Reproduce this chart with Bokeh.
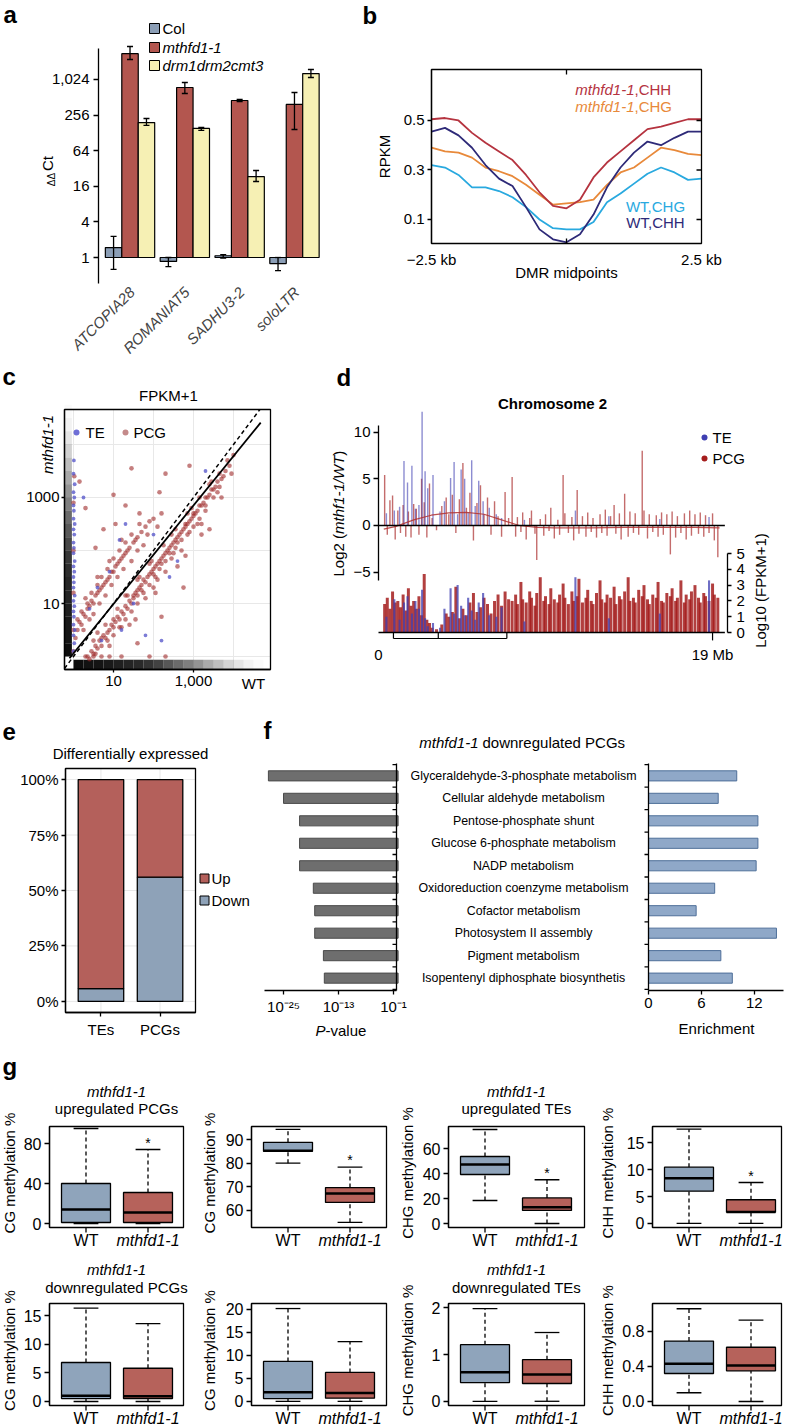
import math
import numpy as np
from bokeh.plotting import figure
from bokeh.layouts import row, column
from bokeh.models import (Range1d, FixedTicker, Label, Whisker, TeeHead,
                          ColumnDataSource, LinearAxis, BoxAnnotation)
from bokeh.embed import file_html
from bokeh.resources import INLINE
from bokeh.core.properties import value

FONT = "Liberation Sans"
HALF_PI = math.pi / 2

# ============================ DATA ============================
# ---- (a) qPCR ----
a_genes = ["ATCOPIA28", "ROMANIAT5", "SADHU3-2", "soloLTR"]
a_lines = ["Col", "mthfd1-1", "drm1drm2cmt3"]
a_col = [1.47, 0.86, 1.07, 0.79]
a_col_lo = [0.63, 0.70, 0.98, 0.60]
a_col_hi = [2.27, 1.00, 1.12, 1.00]
a_mth = [2800, 750, 452, 388]
a_mth_lo = [2230, 593, 434, 146]
a_mth_hi = [3700, 910, 470, 617]
a_drm = [191, 152, 23.4, 1290]
a_drm_lo = [171, 141, 19.3, 1105]
a_drm_hi = [224, 158, 29.6, 1510]
a_yticks = [1, 4, 16, 64, 256, 1024]

# ---- (b) RPKM around DMR midpoints ----
b_kb = [-2.5, -2.25, -2.0, -1.75, -1.5, -1.25, -1.0, -0.75, -0.5, -0.25, 0.0,
        0.25, 0.5, 0.75, 1.0, 1.25, 1.5, 1.75, 2.0, 2.25, 2.5]
b_mth_chh = [0.505, 0.51, 0.50, 0.45, 0.41, 0.375, 0.34, 0.28, 0.21, 0.155, 0.145,
             0.18, 0.27, 0.33, 0.375, 0.42, 0.465, 0.475, 0.49, 0.505, 0.505]
b_mth_chg = [0.39, 0.375, 0.37, 0.35, 0.31, 0.295, 0.275, 0.24, 0.20, 0.16, 0.165,
             0.17, 0.18, 0.24, 0.29, 0.31, 0.35, 0.39, 0.38, 0.365, 0.36]
b_wt_chg = [0.32, 0.31, 0.28, 0.23, 0.23, 0.215, 0.19, 0.15, 0.10, 0.065, 0.06,
            0.06, 0.09, 0.17, 0.205, 0.245, 0.285, 0.31, 0.29, 0.26, 0.265]
b_wt_chh = [0.455, 0.47, 0.44, 0.39, 0.32, 0.265, 0.235, 0.15, 0.06, 0.02, 0.008,
            0.04, 0.12, 0.23, 0.31, 0.37, 0.415, 0.40, 0.43, 0.455, 0.455]
b_yticks = [0.1, 0.3, 0.5]

# ---- (c) FPKM+1 scatter, log10 units (x = WT, y = mthfd1-1) ----
pcg_x = [0.35, 0.45, 0.5, 0.55, 0.6, 0.65, 0.7, 0.75, 0.8, 0.85,
         0.9, 0.95, 1.0, 1.0, 1.05, 1.1, 1.15, 1.2, 1.25, 1.3,
         1.35, 1.4, 1.45, 1.5, 1.5, 1.55, 1.6, 1.65, 1.7, 1.7,
         1.75, 1.8, 1.85, 1.9, 1.95, 2.0, 2.0, 2.05, 2.1, 2.15,
         2.2, 2.2, 2.25, 2.3, 2.35, 2.4, 2.4, 2.45, 2.5, 2.55,
         2.6, 2.6, 2.65, 2.7, 2.75, 2.8, 2.8, 2.85, 2.9, 2.95,
         3.0, 3.0, 3.05, 3.1, 3.15, 3.2, 3.25, 3.3, 3.35, 3.4,
         3.45, 3.5, 3.55, 3.6, 3.7, 3.8, 3.9, 1.2, 1.6, 2.1,
         2.5, 2.9, 3.3, 0.9, 1.8, 2.3, 1.4, 3.6, 2.0, 2.7,
         3.1, 1.3, 1.9, 2.45, 2.95, 3.45, 3.85, 0.6, 1.6,
         0.05, 0.1, 0.15, 0.2, 0.25, 0.3, 0.35, 0.4, 0.45, 0.5,
         0.55, 0.6, 0.65, 0.7, 0.75, 0.8, 0.85, 0.9, 0.95, 1.0,
         1.05, 1.1, 1.15, 1.2, 1.25, 1.3, 1.35, 1.4, 1.5, 1.55,
         1.6, 1.7, 1.8, 1.9, 2.0, 0.3, 0.6, 0.9, 1.2, 0.5,
         0.8, 1.1, 1.45, 1.75, 2.1,
         0.55, 0.75, 1.05, 1.3, 1.0, 1.65, 2.3, 2.15, 1.45, 2.9,
         2.75, 3.2, 0.3, 0.15, 0.9, 1.2, 0.3, 0.5, 0.7, 1.9,
         2.3, 1.6, 2.2, 2.8, 3.4, 3.7, 4.0, 3.95, 0.0, 0.0,
         0.0, 0.0, 0.0, 0.02,
         0.4, 0.55, 0.7, 0.85, 1.0, 1.15, 1.3, 1.45, 1.6, 1.75,
         1.9, 2.05, 2.15, 2.3, 2.45, 2.55, 2.7, 2.85, 3.0, 3.15,
         3.3, 3.5, 3.65, 3.75, 1.1, 1.35, 1.65, 1.95, 2.25, 2.55,
         2.85, 3.15, 3.4, 3.65, 0.8, 0.5, 2.05, 2.6, 3.2, 1.55,
         0.1, 0.2, 0.35, 0.45, 0.6, 0.7, 0.85, 1.0, 1.15, 1.3,
         1.45, 1.65, 0.25, 0.4, 0.65, 0.95, 1.25, 1.6, 1.85, 2.2]
pcg_y = [0.0, 0.1, 0.05, 0.2, 0.15, 0.3, 0.2, 0.4, 0.35, 0.45,
         0.5, 0.6, 0.55, 0.7, 0.65, 0.75, 0.7, 0.85, 0.8, 0.95,
         0.9, 1.05, 1.0, 1.15, 1.1, 1.2, 1.25, 1.3, 1.35, 1.25,
         1.45, 1.4, 1.5, 1.55, 1.6, 1.65, 1.55, 1.7, 1.75, 1.8,
         1.85, 1.75, 1.9, 1.95, 2.0, 2.05, 1.95, 2.1, 2.15, 2.2,
         2.25, 2.15, 2.3, 2.35, 2.4, 2.45, 2.5, 2.5, 2.55, 2.6,
         2.65, 2.7, 2.7, 2.75, 2.85, 2.85, 2.9, 3.0, 3.0, 3.05,
         3.15, 3.15, 3.2, 3.3, 3.35, 3.5, 3.6, 0.55, 1.0, 1.45,
         1.95, 2.35, 2.75, 0.2, 1.1, 1.6, 0.6, 3.1, 1.3, 2.0,
         2.5, 1.15, 1.75, 2.3, 2.8, 3.3, 3.7, 0.45, 1.45,
         0.35, 0.5, 0.65, 0.6, 0.8, 0.75, 0.9, 0.95, 1.05, 1.0,
         1.15, 1.2, 1.25, 1.3, 1.35, 1.4, 1.45, 1.5, 1.6, 1.6,
         1.7, 1.75, 1.8, 1.85, 1.9, 1.95, 2.0, 2.05, 2.15, 2.2,
         2.25, 2.35, 2.45, 2.55, 2.6, 1.1, 1.5, 1.8, 2.2, 0.8,
         1.15, 1.5, 1.8, 2.1, 2.45,
         2.05, 2.4, 2.5, 2.85, 3.05, 2.7, 3.45, 3.1, 3.55, 3.6,
         1.3, 2.3, 2.8, 3.3, 0.0, 0.0, 0.0, 0.0, 0.0, 0.0,
         0.0, 0.25, 0.75, 1.9, 2.4, 3.0, 3.8, 3.45, 0.5, 1.2,
         2.0, 2.9, 0.1, 3.4,
         -0.05, 0.05, 0.35, 0.3, 0.4, 0.55, 0.7, 0.85, 1.15, 1.2,
         1.35, 1.5, 1.65, 1.8, 1.85, 2.05, 2.2, 2.3, 2.45, 2.6,
         2.85, 3.0, 3.2, 3.4, 0.9, 1.15, 1.5, 1.8, 2.1, 2.4,
         2.7, 3.0, 3.25, 3.45, 0.6, 0.3, 1.2, 1.7, 2.5, 0.7,
         0.7, 0.85, 1.0, 1.2, 1.35, 1.5, 1.65, 1.85, 2.0, 2.15,
         2.3, 2.5, 0.5, 0.7, 1.0, 1.35, 1.65, 2.0, 2.3, 2.7]
te_x = [0.0, 0.02, 0.0, 0.03, 0.0, 0.01, 0.0, 0.02, 0.0, 0.03,
        0.0, 0.01, 0.0, 0.02, 0.0, 0.03, 0.0, 0.01, 0.0, 0.02,
        0.0, 0.03, 0.0, 0.01, 0.0, 0.02, 0.0, 0.03, 0.0, 0.01,
        0.25, 1.3, 1.15, 0.6, 0.9, 2.0, 1.8, 2.2, 2.6, 3.3, 1.5, 0.4, 0.7, 1.2, 2.4]
te_y = [0.1, 0.25, 0.4, 0.5, 0.6, 0.75, 0.85, 0.95, 1.05, 1.15,
        1.3, 1.4, 1.5, 1.6, 1.7, 1.8, 1.95, 2.05, 2.15, 2.3,
        2.4, 2.5, 2.6, 2.75, 2.85, 3.0, 3.1, 3.25, 3.45, 3.7,
        3.0, 2.5, 2.2, 1.3, 1.6, 2.3, 0.4, 0.3, 1.8, 3.5, 1.0, 0.9, 0.3, 0.5, 1.5]
c_rug_centers = [0.125, 0.375, 0.625, 0.875, 1.125, 1.375, 1.625, 1.875, 2.125, 2.375,
                 2.625, 2.875, 3.125, 3.375, 3.625, 3.875, 4.125, 4.375, 4.625]
c_rug_y_alpha = [0.95, 0.92, 0.9, 0.88, 0.86, 0.85, 0.82, 0.78, 0.72, 0.65,
                 0.58, 0.5, 0.42, 0.34, 0.26, 0.18, 0.1, 0.05, 0.02]
c_rug_x_alpha = [0.95, 0.93, 0.92, 0.9, 0.88, 0.86, 0.84, 0.8, 0.74, 0.66,
                 0.58, 0.5, 0.42, 0.33, 0.25, 0.17, 0.1, 0.05, 0.02]
c_fit_slope = 0.93
c_fit_intercept = 0.06
c_fit_xspan = [-0.1, 4.68]

# ---- (d) chromosome 2 ----
d_chrom_len = 19.7
d_pericentromere_mb = [0.85, 3.4, 7.3]
pcg_pos = [0.35, 0.5, 0.65, 0.8, 0.95, 1.1, 1.25, 1.4, 1.55, 1.7, 1.85, 2.0, 2.15, 2.3, 2.45, 2.6, 2.75, 2.9,
           3.05, 3.3, 3.6, 3.85,
           4.0, 4.2, 4.4, 4.6, 4.8, 5.0, 5.2, 5.4, 5.6, 5.8, 6.0, 6.2, 6.4, 6.6, 6.8, 7.0, 7.2, 7.4,
           7.6, 7.8, 7.9, 8.1, 8.2, 8.4, 8.6, 8.7, 8.9, 9.0,
           9.2, 9.4, 9.5, 9.7, 9.8, 10.0, 10.2, 10.3, 10.5, 10.6,
           10.8, 11.0, 11.1, 11.3, 11.4, 11.6, 11.8, 11.9, 12.1, 12.2,
           12.4, 12.6, 12.7, 12.9, 13.0, 13.2, 13.4, 13.5, 13.7, 13.8,
           14.0, 14.2, 14.3, 14.5, 14.6, 14.8, 15.0, 15.1, 15.3, 15.4,
           15.6, 15.8, 15.9, 16.1, 16.2, 16.4, 16.6, 16.7, 16.9, 17.0,
           17.2, 17.4, 17.5, 17.7, 17.8, 18.0, 18.2, 18.3, 18.5, 18.6,
           18.8, 19.0, 19.1, 19.3]
pcg_fc = [5.4, -1.0, 2.7, 3.2, -1.5, 1.6, -0.8, 2.2, -1.2, 1.5, -1.3, 2.3, 1.8, -1.0, 5.0, 2.5, -1.3, 4.5,
          0.8, -0.5, 2.1, 3.0,
          1.2, 3.3, -0.8, 2.8, 6.7, 1.9, 3.5, -1.6, 2.4, 4.3, 1.2, 3.0, -1.0, 2.6, 1.0, -1.2, 3.6, 0.8,
          5.2, -1.2, 0.9, -0.7, 1.4, -1.5, 0.8, 1.6, -0.9, -3.7,
          0.7, -1.1, 1.2, -0.6, 1.9, -1.4, 0.6, -1.0, 5.4, 1.3,
          -0.8, 0.9, -1.6, 3.8, -0.9, 1.0, -1.2, 1.4, -0.7, 0.8,
          -1.3, 1.2, -0.8, 1.7, -1.1, 1.0, 2.2, -0.9, 1.3, -1.5,
          3.4, -1.2, 1.5, -0.8, 1.3, -1.0, 8.0, 1.6, -1.4, 1.2,
          -0.7, 1.1, -1.2, 1.4, -1.0, 1.2, -3.1, 1.5, -1.3, 1.0,
          -0.8, 1.3, -1.5, 1.6, -1.1, 1.2, -0.9, 1.4, -1.2, 1.1,
          -0.8, 1.3, -1.6, -3.4]
pcg_fpkm = [1.8, 2.2, 1.5, 2.6, 1.9, 2.0, 1.6, 2.4, 1.4, 2.8, 1.7, 2.0, 1.5, 2.3, 1.1, 3.7, 0.8, 0.6,
            0.3, 0.2, 0.5, 1.2,
            1.0, 1.3, 2.9, 0.9, 1.5, 1.1, 1.9, 2.5, 1.3, 1.6, 2.2, 1.8, 1.2, 2.0, 2.4, 1.7, 2.6, 2.1,
            2.0, 2.4, 1.8, 3.2, 2.1, 1.9, 2.6, 2.2, 1.7, 2.5,
            3.5, 2.0, 2.3, 1.8, 2.8, 2.1, 1.9, 2.4, 3.1, 2.2,
            1.8, 2.6, 2.0, 2.3, 3.4, 1.9, 2.2, 2.7, 2.0, 1.8,
            2.5, 3.3, 2.1, 1.9, 2.4, 2.2, 2.9, 1.8, 2.3, 2.1,
            2.6, 3.5, 2.0, 2.2, 1.9, 2.7, 2.3, 3.0, 2.1, 1.8,
            2.4, 2.2, 3.2, 2.0, 1.9, 2.5, 2.3, 2.8, 2.0, 2.2,
            3.3, 1.9, 2.4, 2.1, 2.6, 3.0, 2.2, 1.9, 2.5, 2.3,
            2.0, 3.1, 2.4, 2.2]
te_pos = [0.45, 0.9, 1.2, 1.45, 1.65, 1.9, 2.1, 2.3, 2.48, 2.65, 2.8, 3.1, 3.5, 3.75, 4.1, 4.3,
          4.5, 4.7, 4.9, 5.1, 5.3, 5.5, 5.7, 5.95, 6.3, 6.7, 7.0, 8.3, 11.2, 13.1, 16.0, 18.8]
te_fc = [1.3, 1.6, 2.0, 6.9, 4.6, 6.4, 1.8, 2.2, 12.2, 5.8, 4.0, 5.4, 1.5, 2.6, 5.1, 6.8,
         1.2, 6.0, 5.0, 1.4, 7.0, 2.1, 4.8, 2.6, 1.9, 1.2, 0.8, 0.6, 1.6, 1.0, 0.7, 0.9]
te_fpkm = [1.0, 2.1, 0.8, 1.9, 2.3, 1.2, 2.0, 1.5, 2.7, 0.9, 0.4, 0.6, 0.3, 1.5, 2.8, 1.2,
           3.0, 1.7, 1.1, 2.2, 1.4, 0.8, 1.9, 2.5, 1.1, 1.0, 1.6, 0.7, 3.5, 0.9, 1.2, 3.3]
trend_mb = [0.3, 1.0, 2.0, 3.0, 4.0, 5.0, 6.0, 7.0, 8.0, 9.0, 10.0, 12.0, 14.0, 16.0, 18.0, 19.4]
trend_fc = [-0.4, -0.1, 0.6, 1.1, 1.35, 1.4, 1.2, 0.6, 0.0, -0.2, -0.25, -0.25, -0.2, -0.2, -0.2, -0.25]

# ---- (e) differentially expressed ----
e_cats = ["TEs", "PCGs"]
e_down = [5.8, 56.0]
e_up = [94.2, 44.0]
e_yticks = [0, 25, 50, 75, 100]

# ---- (f) GO terms ----
f_terms = ["Glyceraldehyde-3-phosphate metabolism", "Cellular aldehyde metabolism",
           "Pentose-phosphate shunt", "Glucose 6-phosphate metabolism", "NADP metabolism",
           "Oxidoreduction coenzyme metabolism", "Cofactor metabolism",
           "Photosystem II assembly", "Pigment metabolism",
           "Isopentenyl diphosphate biosynthetis"]
f_log10p = [-28.3, -25.0, -21.5, -21.5, -21.5, -18.5, -18.2, -18.2, -16.3, -16.1]
f_enrich = [10.0, 7.9, 12.4, 12.4, 12.2, 7.5, 5.4, 14.5, 8.2, 9.5]

# ---- (g) methylation box plots: [whisker low, Q1, median, Q3, whisker high] ----
g_ylabels = ["CG methylation %", "CG methylation %", "CHG methylation %", "CHH methylation %",
             "CG methylation %", "CG methylation %", "CHG methylation %", "CHH methylation %"]
g_titles = ["upregulated PCGs", None, "upregulated TEs", None,
            "downregulated PCGs", None, "downregulated TEs", None]
g_wt = [[0, 1, 14, 40, 95], [80, 85, 85.3, 88.8, 94.3], [18.4, 39.2, 47.2, 53.6, 75.2],
        [0, 6.0, 8.4, 10.45, 17.5], [0, 0.5, 1.0, 6.8, 16.3], [0, 0.6, 2.0, 8.7, 20.2],
        [0, 0.40, 0.62, 1.21, 1.98], [0.10, 0.32, 0.43, 0.69, 1.06]]
g_mut = [[0, 1, 11, 31, 74], [55, 63.4, 67.2, 69.7, 78.3], [0, 10.5, 13, 20.5, 35],
         [0, 2.1, 2.15, 4.4, 7.6], [0, 0.5, 0.9, 5.8, 13.6], [0, 0.7, 1.8, 6.3, 13.0],
         [0, 0.38, 0.57, 0.89, 1.47], [0, 0.35, 0.41, 0.62, 0.93]]
g_ylims = [(-4, 97), (52.8, 95.5), (-3.2, 77.6), (-0.75, 18), (-0.7, 17.1), (-0.9, 21.3),
           (-0.09, 2.09), (-0.046, 1.12)]
g_yticks = [[0, 40, 80], [60, 70, 80, 90], [0, 20, 40, 60], [0, 5, 10, 15], [0, 5, 10, 15],
            [0, 5, 10, 15, 20], [0, 1, 2], [0, 0.4, 0.8]]
g_tick_over = [None, None, None, None, None, None, None, {0: "0.0"}]
g_signif = [True, True, True, True, False, False, False, False]

# ============================ STYLE ============================
C_COL, C_MTH, C_DRM = "#8b9eb6", "#b3564f", "#f6f0b4"
C_MCHH, C_MCHG, C_WTCHG, C_WTCHH = "#b5333f", "#e8893a", "#29a9df", "#2e2a78"
C_PCG, C_TE = "#9e2a2a", "#5050c8"
C_D_PCG, C_D_TE = "#a51d1d", "#3f3fb2"
C_UP, C_DOWN = "#b4605b", "#8ea2b8"
C_FGREY, C_FBLUE = "#6e6e6e", "#8fa8c8"
C_WT, C_MUT = "#8fa4bb", "#b6625b"
C_GRID = "#e8e8e8"


def style_axis(ax, ticks, overrides=None, size=15, out=4, inn=0, standoff=3,
               lw=1.3, italic=False, bounds=None, line=True):
    ax.ticker = FixedTicker(ticks=ticks, minor_ticks=[])
    ax.minor_tick_line_color = None
    ax.major_tick_out = out
    ax.major_tick_in = inn
    ax.major_tick_line_width = lw
    ax.major_tick_line_color = "black" if (out or inn) else None
    ax.axis_line_width = lw
    ax.axis_line_color = "black" if line else None
    ax.major_label_standoff = standoff
    ax.major_label_text_font = FONT
    ax.major_label_text_font_size = f"{size}px"
    ax.major_label_text_color = "black"
    ax.major_label_text_font_style = "italic" if italic else "normal"
    if overrides is not None:
        ax.major_label_overrides = overrides
    if bounds is not None:
        ax.bounds = bounds


class Panel:
    """A figure whose frame fills its whole canvas; `box` (page px) is where the data
    ranges xr / yr sit, so axes are drawn at fixed locations on the box edges."""

    def __init__(self, canvas, box, xr, yr):
        self.cx0, self.cy0, self.cx1, self.cy1 = canvas
        self.bx0, self.by0, self.bx1, self.by1 = box
        self.xr, self.yr = xr, yr
        self.sx = (xr[1] - xr[0]) / (self.bx1 - self.bx0)
        self.sy = (yr[1] - yr[0]) / (self.by1 - self.by0)
        p = figure(x_range=Range1d(self.X(self.cx0), self.X(self.cx1)),
                   y_range=Range1d(self.Y(self.cy1), self.Y(self.cy0)),
                   frame_width=self.cx1 - self.cx0, frame_height=self.cy1 - self.cy0,
                   min_border=0, x_axis_location=None, y_axis_location=None,
                   output_backend="svg", toolbar_location=None)
        p.outline_line_color = None
        p.grid.visible = False
        p.border_fill_color = "white"
        p.background_fill_color = "white"
        self.p = p

    def X(self, px):
        return self.xr[0] + (px - self.bx0) * self.sx

    def Y(self, py):
        return self.yr[1] - (py - self.by0) * self.sy

    def ypx(self, y):
        return self.by0 + (self.yr[1] - y) / self.sy

    def extra_y(self, name, v_bottom, v_top):
        s = (v_top - v_bottom) / (self.by1 - self.by0)
        self.p.extra_y_ranges = {name: Range1d(v_bottom - (self.cy1 - self.by1) * s,
                                               v_top + (self.by0 - self.cy0) * s)}

    def axis(self, side, ticks, overrides=None, loc=None, range_name=None, **style):
        ax = LinearAxis()
        if range_name is not None:
            if side in ("left", "right"):
                ax.y_range_name = range_name
            else:
                ax.x_range_name = range_name
        ax.fixed_location = loc
        self.p.add_layout(ax, side)
        style_axis(ax, ticks, overrides, **style)
        return ax

    def box(self, lw=1.3):
        self.p.add_layout(BoxAnnotation(left=self.xr[0], right=self.xr[1], bottom=self.yr[0],
                                        top=self.yr[1], fill_alpha=0, fill_color=None,
                                        line_color="black", line_alpha=1.0, line_width=lw))

    def marks(self, xs, ys, dxp=0, dyp=0, lw=1.3, range_name=None):
        kw = {} if range_name is None else {"y_range_name": range_name}
        x1 = [x + dxp * self.sx for x in xs]
        y1 = [y - dyp * self.sy for y in ys]
        self.p.segment(x0=xs, y0=ys, x1=x1, y1=y1, line_color="black", line_width=lw, **kw)

    def label(self, px, py, text, size=15, style="normal", align="center",
              baseline="middle", angle=0, color="black"):
        self.p.add_layout(Label(x=self.X(px), y=self.Y(py), text=text, angle=angle,
                                text_font=FONT, text_font_size=f"{size}px",
                                text_font_style=style, text_color=color,
                                text_align=align, text_baseline=baseline))


def clip_line(m, b, xspan, yr):
    xa = max(xspan[0], (yr[0] - b) / m)
    xb = min(xspan[1], (yr[1] - b) / m)
    return [xa, xb], [m * xa + b, m * xb + b]


# ============================ (a) ============================
A = Panel((0, 0, 360, 360), (98, 48, 325, 283), (-0.575, 3.566), (-1.46, 11.74))
pa = A.p
a_log_ticks = [int(round(math.log2(t))) for t in a_yticks]
A.axis("left", a_log_ticks, {lt: f"{t:,}" for lt, t in zip(a_log_ticks, a_yticks)},
       loc=A.xr[0], bounds=A.yr, size=15, out=5, standoff=4)
a_colors = [C_COL, C_MTH, C_DRM]
for k, (vals, lo, hi) in enumerate([(a_col, a_col_lo, a_col_hi), (a_mth, a_mth_lo, a_mth_hi),
                                    (a_drm, a_drm_lo, a_drm_hi)]):
    xs = [i + (k - 1) * 0.3 for i in range(len(a_genes))]
    src = ColumnDataSource(dict(x=xs, top=np.log2(vals), lo=np.log2(lo), hi=np.log2(hi)))
    pa.vbar(x="x", bottom=0, top="top", width=0.3, source=src, fill_color=a_colors[k],
            line_color="black", line_width=1.2)
    pa.add_layout(Whisker(source=src, base="x", lower="lo", upper="hi", line_width=1.3,
                          line_color="black", level="overlay",
                          lower_head=TeeHead(size=6, line_width=1.3),
                          upper_head=TeeHead(size=6, line_width=1.3)))
for i, g in enumerate(a_genes):
    pa.add_layout(Label(x=i + 2 * A.sx, y=A.Y(289), text=g, angle=math.pi / 4,
                        text_font=FONT, text_font_size="15px", text_font_style="italic",
                        text_align="right", text_baseline="middle"))
for k, (name, ypos) in enumerate(zip(a_lines, [28, 47, 65])):
    pa.scatter([A.X(154)], [A.Y(ypos)], marker="square", size=10, fill_color=a_colors[k],
               line_color="black", line_width=1)
    A.label(162, ypos, name, 15, "normal" if k == 0 else "italic", align="left")
A.label(3, 14, "a", 24, "bold", align="left")
A.label(51, 179, "ΔΔ", 10, angle=HALF_PI)
A.label(47, 163, "Ct", 15, angle=HALF_PI)

# ============================ (b) ============================
B = Panel((360, 0, 788, 360), (431, 69, 701, 243), (-2.5, 2.5), (0.003, 0.706))
pb = B.p
B.axis("left", b_yticks, None, loc=B.xr[0], bounds=B.yr, size=15, out=4, standoff=3)
B.axis("below", [-2.5, 2.5], {-2.5: "−2.5 kb", 2.5: "2.5 kb"}, loc=B.yr[0],
       size=15, out=0, standoff=7, line=False)
for vals, col in [(b_wt_chg, C_WTCHG), (b_mth_chg, C_MCHG), (b_wt_chh, C_WTCHH), (b_mth_chh, C_MCHH)]:
    pb.line(b_kb, vals, line_color=col, line_width=1.8)
B.box()
B.marks([B.xr[1]] * len(b_yticks), b_yticks, dxp=-5)
B.marks([0], [B.yr[1]], dyp=5)
B.marks([0], [B.yr[0]], dyp=-5)
B.label(634, 89, "mthfd1-1", 15, "italic", align="right", color=C_MCHH)
B.label(634, 89, ",CHH", 15, align="left", color=C_MCHH)
B.label(634, 106, "mthfd1-1", 15, "italic", align="right", color=C_MCHG)
B.label(634, 106, ",CHG", 15, align="left", color=C_MCHG)
B.label(655, 206, "WT,CHG", 15, color=C_WTCHG)
B.label(655, 222, "WT,CHH", 15, color=C_WTCHH)
B.label(384, 156, "RPKM", 15, angle=HALF_PI)
B.label(566, 272, "DMR midpoints", 15)
B.label(362, 15, "b", 24, "bold", align="left")

# ============================ (c) ============================
Cp = Panel((0, 360, 330, 700), (64, 409, 270, 669), (-0.225, 4.925), (-0.245, 4.66))
pc = Cp.p
c_grid = [0, 1, 2, 3, 4]
pc.segment(x0=c_grid, y0=Cp.yr[0], x1=c_grid, y1=Cp.yr[1], line_color=C_GRID, line_width=1)
pc.segment(x0=Cp.xr[0], y0=c_grid, x1=Cp.xr[1], y1=c_grid, line_color=C_GRID, line_width=1)
Cp.axis("left", [1, 3], {1: "10", 3: "1000"}, loc=Cp.xr[0], bounds=Cp.yr, size=15, out=3, standoff=2)
Cp.axis("below", [1, 3], {1: "10", 3: "1,000"}, loc=Cp.yr[0], bounds=Cp.xr, size=15, out=3, standoff=3)
half = 0.125
pc.quad(left=-0.225, right=-0.04, bottom=[v - half for v in c_rug_centers],
        top=[v + half for v in c_rug_centers], fill_color="black",
        fill_alpha=c_rug_y_alpha, line_color=None)
pc.quad(bottom=-0.245, top=-0.06, left=[v - half for v in c_rug_centers],
        right=[v + half for v in c_rug_centers], fill_color="black",
        fill_alpha=c_rug_x_alpha, line_color=None)
n_p = min(len(pcg_x), len(pcg_y))
pc.scatter(pcg_x[:n_p], pcg_y[:n_p], size=4.6, fill_color=C_PCG, fill_alpha=0.6, line_color=None)
n_t = min(len(te_x), len(te_y))
pc.scatter(te_x[:n_t], te_y[:n_t], size=3.8, fill_color=C_TE, fill_alpha=0.75, line_color=None)
lx, ly = clip_line(1.0, 0.0, Cp.xr, Cp.yr)
pc.line(lx, ly, line_color="black", line_width=1.5, line_dash="4 3")
lx, ly = clip_line(c_fit_slope, c_fit_intercept, c_fit_xspan, Cp.yr)
pc.line(lx, ly, line_color="black", line_width=1.8)
Cp.box()
pc.scatter([Cp.X(76)], [Cp.Y(432)], size=6, fill_color="#6f6fd6", line_color=None)
pc.scatter([Cp.X(125)], [Cp.Y(432)], size=6, fill_color="#c48a8a", line_color=None)
Cp.label(85, 432, "TE", 15, align="left")
Cp.label(133, 432, "PCG", 15, align="left")
Cp.label(2, 376, "c", 24, "bold", align="left")
Cp.label(168, 395, "FPKM+1", 15)
Cp.label(47, 444, "mthfd1-1", 15, "italic", angle=HALF_PI)
Cp.label(253, 683, "WT", 15)

# ============================ (d) ============================
D = Panel((330, 360, 788, 700), (378, 405, 727, 640), (0, 19.85), (-12.33, 12.86))
pdd = D.p
D.extra_y("fpkm", -0.506, 14.37)
D.axis("left", [-5, 0, 5, 10], {-5: "−5"}, loc=0, bounds=(-5.9, 10.75), size=15, out=5, standoff=3)
D.axis("right", [0, 1, 2, 3, 4, 5], None, loc=D.xr[1], range_name="fpkm", bounds=(0, 5),
       size=15, out=4, standoff=5)
D.axis("below", [0, 19], {0: "0", 19: "19 Mb"}, loc=D.yr[0], size=15, out=0, standoff=5, line=False)
n_g = min(len(pcg_pos), len(pcg_fc), len(pcg_fpkm))
n_e = min(len(te_pos), len(te_fc), len(te_fpkm))
pdd.vbar(x=pcg_pos[:n_g], bottom=0, top=pcg_fpkm[:n_g], width=0.17, y_range_name="fpkm",
         fill_color=C_D_PCG, fill_alpha=0.85, line_color=None)
pdd.vbar(x=te_pos[:n_e], bottom=0, top=te_fpkm[:n_e], width=0.12, y_range_name="fpkm",
         fill_color=C_D_TE, fill_alpha=0.75, line_color=None)
pdd.segment(x0=pcg_pos[:n_g], y0=0, x1=pcg_pos[:n_g], y1=pcg_fc[:n_g], line_color=C_D_PCG,
            line_alpha=0.65, line_width=1.4)
pdd.segment(x0=te_pos[:n_e], y0=0, x1=te_pos[:n_e], y1=te_fc[:n_e], line_color=C_D_TE,
            line_alpha=0.6, line_width=1.4)
pdd.line(trend_mb, trend_fc, line_color="#b03030", line_width=1.2, line_alpha=0.85)
pdd.segment(x0=[0], y0=[0], x1=[d_chrom_len], y1=[0], line_color="black", line_width=1.5)
pdd.segment(x0=[0], y0=[0], x1=[d_chrom_len], y1=[0], line_color="black", line_width=1.5,
            y_range_name="fpkm")
peri = d_pericentromere_mb
pdd.segment(x0=[peri[0]], y0=[-0.38], x1=[peri[-1]], y1=[-0.38], line_color="black",
            line_width=1.2, y_range_name="fpkm")
pdd.segment(x0=peri, y0=[-0.38] * len(peri), x1=peri, y1=[0] * len(peri), line_color="black",
            line_width=1.2, y_range_name="fpkm")
pdd.segment(x0=[19], y0=[-0.5], x1=[19], y1=[0], line_color="black", line_width=1.2,
            y_range_name="fpkm")
pdd.scatter([D.X(704)], [D.Y(437)], size=6, fill_color=C_D_TE, line_color=None)
pdd.scatter([D.X(704)], [D.Y(458)], size=6, fill_color=C_D_PCG, line_color=None)
D.label(712, 437, "TE", 15, align="left")
D.label(712, 458, "PCG", 15, align="left")
D.label(336, 377, "d", 24, "bold", align="left")
D.label(552, 403, "Chromosome 2", 15, "bold")
D.label(338, 576, "Log2 (", 15, align="left", angle=HALF_PI)
D.label(338, 533.5, "mthf1-1/WT", 15, "italic", align="left", angle=HALF_PI)
D.label(338, 455.3, ")", 15, align="left", angle=HALF_PI)
D.label(760, 590, "Log10 (FPKM+1)", 15, angle=HALF_PI)

# ============================ (e) ============================
E = Panel((0, 700, 262, 1045), (65, 768, 195, 1012), (0.4, 2.6), (-5, 105))
pe = E.p
e_x = [1, 2]
pe.segment(x0=E.xr[0], y0=e_yticks, x1=E.xr[1], y1=e_yticks, line_color=C_GRID, line_width=1)
pe.segment(x0=e_x, y0=E.yr[0], x1=e_x, y1=E.yr[1], line_color=C_GRID, line_width=1)
E.axis("left", e_yticks, {t: f"{t}%" for t in e_yticks}, loc=E.xr[0], bounds=E.yr,
       size=15, out=4, standoff=3)
E.axis("below", e_x, {1: e_cats[0], 2: e_cats[1]}, loc=E.yr[0], bounds=E.xr,
       size=15, out=4, standoff=4)
e_total = [d + u for d, u in zip(e_down, e_up)]
pe.vbar(x=e_x, bottom=0, top=e_down, width=0.77, fill_color=C_DOWN, line_color="black", line_width=1.3)
pe.vbar(x=e_x, bottom=e_down, top=e_total, width=0.77, fill_color=C_UP, line_color="black", line_width=1.3)
E.box()
pe.scatter([E.X(204)], [E.Y(878)], marker="square", size=9, fill_color=C_UP, line_color="black", line_width=1)
pe.scatter([E.X(204)], [E.Y(900)], marker="square", size=9, fill_color=C_DOWN, line_color="black", line_width=1)
E.label(211, 878, "Up", 15, align="left")
E.label(211, 900, "Down", 15, align="left")
E.label(2, 731, "e", 24, "bold", align="left")
E.label(130, 753, "Differentially expressed", 15)

# ============================ (f) ============================
f_rows = [len(f_terms) - i for i in range(len(f_terms))]
f_yr = (0.45, 10.55)
f_sep = [k + 0.5 for k in range(len(f_terms) + 1)]
F1 = Panel((262, 700, 410, 1045), (264, 763, 396, 990), (-29.15, -0.35), f_yr)
pf1 = F1.p
F1.axis("below", [-25, -13, -1], {-25: "10⁻²⁵", -13: "10⁻¹³", -1: "10⁻¹"}, loc=f_yr[0],
        bounds=F1.xr, size=15, out=4, standoff=3)
pf1.hbar(y=f_rows, left=f_log10p, right=0, height=0.45, fill_color=C_FGREY, line_color="#4a4a4a",
         line_width=1)
pf1.segment(x0=[F1.xr[1]], y0=[f_yr[0]], x1=[F1.xr[1]], y1=[f_yr[1]], line_color="black", line_width=1.3)
F1.marks([F1.xr[1]] * len(f_sep), f_sep, dxp=-4)
F1.label(263, 730, "f", 24, "bold", align="left")
F1.label(325, 1030, "P", 15, "italic", align="right")
F1.label(325, 1030, "-value", 15, align="left")

FM = Panel((410, 700, 640, 1045), (410, 763, 640, 990), (410, 640), f_yr)
pfm = FM.p
pfm.text(x=[523] * len(f_terms), y=f_rows, text=f_terms, text_align="center",
         text_baseline="middle", text_font=value(FONT), text_font_size=value("12.4px"),
         text_color="black")
FM.label(478, 742, "mthfd1-1", 15, "italic", align="right")
FM.label(482, 742, "downregulated PCGs", 15, align="left")

F2 = Panel((640, 700, 788, 1045), (648, 763, 783, 990), (0, 15.3), f_yr)
pf2 = F2.p
F2.axis("below", [0, 6, 12], None, loc=f_yr[0], bounds=F2.xr, size=15, out=4, standoff=3)
pf2.hbar(y=f_rows, left=0, right=f_enrich, height=0.45, fill_color=C_FBLUE, line_color="#4e6f99",
         line_width=1)
pf2.segment(x0=[0], y0=[f_yr[0]], x1=[0], y1=[f_yr[1]], line_color="black", line_width=1.3)
F2.marks([0] * len(f_sep), f_sep, dxp=-4)
F2.label(716, 1028, "Enrichment", 15)

# ============================ (g) ============================
g_rows = [(1045, 1250, 1126, 1227, 1091, 1108, 1240), (1250, 1426, 1303, 1405, 1269, 1287, 1418)]
g_canvas_x = [(0, 200), (200, 398), (398, 598), (598, 788)]
g_frame_x = [(49, 183), (251, 386), (448, 584), (652, 781)]
g_ylabel_x = [9, 209, 407, 607]
PX_PER_CAT = 62.0
FIRST_CAT = 36.5
G = []
for k in range(8):
    r, c = divmod(k, 4)
    cy0, cy1, fy0, fy1, t1, t2, xl = g_rows[r]
    cx0, cx1 = g_canvas_x[c]
    fx0, fx1 = g_frame_x[c]
    xr = (1 - FIRST_CAT / PX_PER_CAT, 1 + (fx1 - fx0 - FIRST_CAT) / PX_PER_CAT)
    P = Panel((cx0, cy0, cx1, cy1), (fx0, fy0, fx1, fy1), xr, g_ylims[k])
    p = P.p
    P.axis("left", g_yticks[k], g_tick_over[k], loc=xr[0], bounds=g_ylims[k], size=16, out=5, standoff=3)
    P.marks([1, 2], [g_ylims[k][0]] * 2, dyp=5)
    for cat, stats, colr in [(1, g_wt[k], C_WT), (2, g_mut[k], C_MUT)]:
        lo, q1, med, q3, hi = stats
        p.segment(x0=[cat, cat], y0=[q3, lo], x1=[cat, cat], y1=[hi, q1], line_color="black",
                  line_width=1.3, line_dash="4 3")
        p.segment(x0=[cat - 0.2, cat - 0.2], y0=[hi, lo], x1=[cat + 0.2, cat + 0.2], y1=[hi, lo],
                  line_color="black", line_width=1.3)
        p.vbar(x=[cat], bottom=[q1], top=[q3], width=0.79, fill_color=colr, line_color="black",
               line_width=1.3)
        p.segment(x0=[cat - 0.395], y0=[med], x1=[cat + 0.395], y1=[med], line_color="black",
                  line_width=2.5)
    P.box()
    cxm = (fx0 + fx1) / 2
    P.label(fx0 + FIRST_CAT, xl, "WT", 16)
    P.label(fx0 + FIRST_CAT + PX_PER_CAT, xl, "mthfd1-1", 16, "italic")
    if g_titles[k]:
        P.label(cxm, t1, "mthfd1-1", 15, "italic")
        P.label(cxm, t2, g_titles[k], 15)
    P.label(g_ylabel_x[c], (fy0 + fy1) / 2 - 4, g_ylabels[k], 15, angle=HALF_PI)
    if g_signif[k]:
        P.label(fx0 + FIRST_CAT + PX_PER_CAT, P.ypx(g_mut[k][4]) - 7, "*", 14)
    G.append(P)
G[0].label(2, 1066, "g", 24, "bold", align="left")

layout = column(
    row(pa, pb),
    row(pc, pdd),
    row(pe, pf1, pfm, pf2),
    row(*[G[i].p for i in range(4)]),
    row(*[G[i].p for i in range(4, 8)]),
)
open("out.html", "w").write(file_html(layout, INLINE, "Figure"))
